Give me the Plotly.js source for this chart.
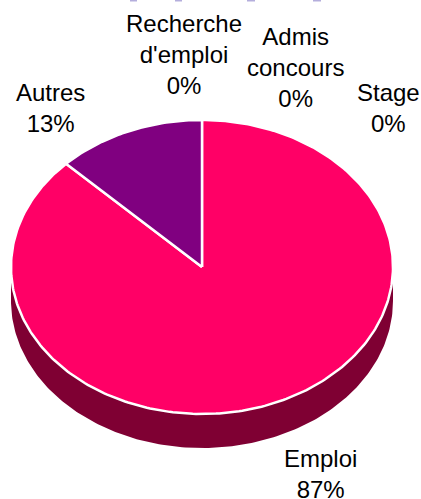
<!DOCTYPE html>
<html><head><meta charset="utf-8">
<script src="https://cdn.plot.ly/plotly-3.0.1.min.js"></script>
<style>html,body{margin:0;padding:0;background:#fff}#c{width:421px;height:499px}</style></head>
<body><div id="c"></div>
<script>
const categories = ["Emploi","Stage","Admis<br>concours","Recherche<br>d'emploi","Autres"];
const values = [87.4,0,0,0,12.6];
const topColors = ["#FF0066","#9999FF","#FFCC99","#66CC00","#800080"];
const sideColor = "#7F0033";
const labelX = [320,388,295,184,50];
const labelY = [474,108,67,54,108];
const clippedTitleX = [130,137,null,175,182,null,247,255,null,313,321];
const clippedTitleY = [0.5,0.5,null,0.5,0.5,null,0.5,0.5,null,0.5,0.5];

const cx=202, cy=267, rx=191, ry=147, depth=34;
const total = values.reduce((a,b)=>a+b,0);
function pt(frac,dy){const a=2*Math.PI*frac;return [cx+rx*Math.sin(a),cy-ry*Math.cos(a)+(dy||0)];}
function wedge(f0,f1){
  const xs=[cx],ys=[cy];const n=Math.max(2,Math.ceil((f1-f0)*360));
  for(let i=0;i<=n;i++){const p=pt(f0+(f1-f0)*i/n);xs.push(p[0]);ys.push(p[1]);}
  xs.push(cx);ys.push(cy);return {xs,ys};
}
const traces=[];
traces.push({type:'scatter',mode:'lines',x:clippedTitleX,y:clippedTitleY,line:{color:'#B4AEDC',width:2},hoverinfo:'skip',cliponaxis:false});
(function(){
  const xs=[],ys=[];
  for(let d=90;d<=270;d++){const p=pt(d/360,depth);xs.push(p[0]);ys.push(p[1]);}
  for(let d=270;d>=90;d--){const p=pt(d/360,0);xs.push(p[0]);ys.push(p[1]);}
  traces.push({type:'scatter',mode:'lines',x:xs,y:ys,fill:'toself',fillcolor:sideColor,line:{color:sideColor,width:0},hoverinfo:'skip'});
})();
let c=0;
values.forEach((v,i)=>{
  if(v<=0) return;
  const f0=c/total,f1=(c+v)/total;c+=v;
  const w=wedge(f0,f1);
  traces.push({type:'scatter',mode:'lines',x:w.xs,y:w.ys,fill:'toself',fillcolor:topColors[i],line:{color:'#FFFFFF',width:2.5},name:categories[i],hoverinfo:'name'});
});
const annotations=categories.map((t,i)=>({x:labelX[i],y:labelY[i],xref:'x',yref:'y',showarrow:false,xanchor:'center',yanchor:'middle',
  text:t+'<br>'+Math.round(values[i]/total*100)+'%',align:'center'}));
Plotly.newPlot('c',traces,{
  width:421,height:499,margin:{l:0,r:0,t:0,b:0},showlegend:false,
  paper_bgcolor:'#fff',plot_bgcolor:'#fff',
  font:{family:'Liberation Sans, Arial, sans-serif',size:24,color:'#000'},
  xaxis:{range:[0,421],visible:false,fixedrange:true},
  yaxis:{range:[499,0],visible:false,fixedrange:true},
  annotations
},{displayModeBar:false,staticPlot:true});
</script></body></html>
